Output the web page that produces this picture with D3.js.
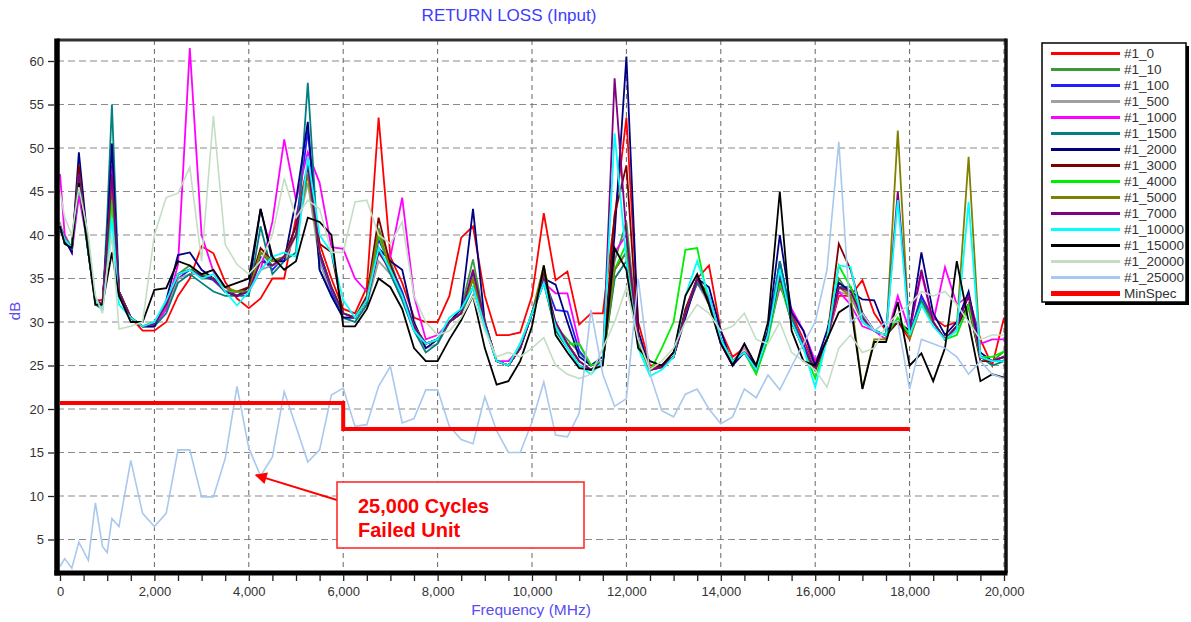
<!DOCTYPE html>
<html>
<head>
<meta charset="utf-8">
<script src="https://cdn.jsdelivr.net/npm/d3@7"></script>
<style>
  html, body { margin: 0; padding: 0; background: #ffffff; }
  svg { display: block; font-family: "Liberation Sans", Arial, sans-serif; }
</style>
</head>
<body>
<div id="chart"></div>
<script>
// Frequency points (MHz) shared by every sweep
const freqs = [
  0, 100, 250, 400, 600, 750, 900, 1000, 1100, 1250,
  1500, 1750, 2000, 2250, 2500, 2750, 3000, 3250, 3500, 3750,
  4000, 4250, 4500, 4750, 5000, 5250, 5500, 5750, 6000, 6250,
  6500, 6750, 7000, 7250, 7500, 7750, 8000, 8250, 8500, 8750,
  9000, 9250, 9500, 9750, 10000, 10250, 10500, 10750, 11000, 11250,
  11500, 11750, 12000, 12250, 12500, 12750, 13000, 13250, 13500, 13750,
  14000, 14250, 14500, 14750, 15000, 15250, 15500, 15750, 16000, 16250,
  16500, 16750, 17000, 17250, 17500, 17750, 18000, 18250, 18500, 18750,
  19000, 19250, 19500, 19750, 20000
];

// Return loss (dB) per cycle count
const rl_0 = [
  41, 39, 38.5, 47, 38, 32.5, 32.5, 38, 44, 33.5,
  30.5, 29, 29, 30, 33, 35, 38.7, 37.9, 34.6, 32.7,
  31.6, 32.7, 35, 35, 42, 48, 39, 35, 31.5, 31,
  34, 53.5, 37.5, 34.5, 30.5, 30, 30, 33, 39.7, 41,
  33, 28.5, 28.5, 28.8, 33, 42.5, 34.8, 35.8, 29.7, 31,
  31, 42, 53.5, 30, 25, 25, 26.5, 31, 35, 36.5,
  29, 26, 27, 25, 28.5, 35, 31, 28, 25, 28,
  33, 33, 34.8, 31, 29, 30, 28, 33, 30.5, 29.5,
  30, 33, 28, 25, 30.5
];
const rl_10 = [
  41, 40, 38.5, 47.5, 38.5, 32.5, 32, 40, 47, 33.5,
  30.5, 29.5, 29.8, 32, 35.5, 36.5, 35, 35, 33.5, 33.5,
  33.5, 38, 36.5, 37.5, 40, 48, 38, 34, 31, 30.5,
  32.5, 40.8, 37, 33, 29.5, 27.5, 28, 30, 31.5, 37.2,
  30, 25.5, 25, 27, 31, 35.5, 29.5, 28, 26.5, 25,
  25.5, 37, 41.5, 28, 24.5, 25, 26, 31, 35, 32,
  28, 25.5, 26.5, 24.5, 29, 35, 30, 27, 24.5, 28,
  35, 33, 30, 29, 28.5, 30, 29, 32, 30, 28,
  29.5, 32, 26, 25.5, 26.6
];
const rl_100 = [
  40.5, 39.5, 38, 47, 38, 32.5, 32, 39, 46, 33.5,
  30.5, 29.5, 29.5, 31.5, 35, 36, 35.3, 34.8, 33.5, 33,
  33.5, 37.5, 36, 37.5, 41, 52, 37.5, 33.5, 30.5, 30.5,
  32.5, 39.5, 36.5, 33.5, 29.5, 27.5, 28, 30, 31, 35.5,
  29.5, 25.5, 25, 27, 31, 35, 31.4, 31.2, 26.7, 25,
  25.5, 36, 38, 28, 24.5, 24.8, 26, 31, 35, 32.5,
  27.5, 25.5, 26.5, 24.5, 28.5, 37, 30.5, 27.5, 24.5, 28,
  34, 34, 31, 29, 28.5, 30, 28.5, 33, 30, 28,
  29.5, 32, 26, 25.5, 26
];
const rl_500 = [
  41.5, 39, 38.5, 46, 38, 32, 32, 37, 44, 33,
  30.5, 29.5, 29.5, 31.5, 35, 35.5, 35.5, 35, 33.5, 33,
  33.5, 36, 36.5, 37, 40, 46, 37, 33, 30.5, 30,
  32, 37, 35.5, 32.5, 29, 27, 27.5, 30, 31, 34,
  29.5, 25.5, 25, 27, 31, 34.5, 29, 27.5, 25.5, 24.5,
  25.5, 35, 37, 28, 24.5, 25, 26, 31, 34.5, 32,
  28, 25.5, 27, 25, 28.5, 35, 30, 27, 24.5, 28,
  33.5, 33, 30.5, 29, 28.5, 30, 28.5, 32, 30, 28,
  29, 31.5, 26, 25.5, 26
];
const rl_1000 = [
  47, 40, 38, 44.5, 38.5, 32.5, 32, 40, 48, 33.5,
  30.5, 29.5, 29.5, 31.5, 36.6, 61.5, 40, 35.8, 34, 33,
  33.5, 36, 41.5, 51, 44, 49.5, 46, 38.6, 38.4, 35,
  33.5, 38, 37.5, 44.3, 33, 28, 28.5, 30, 31, 35,
  30, 25.5, 25.5, 27, 31, 34.5, 33.3, 33.3, 27.5, 25,
  25.5, 38, 40, 28, 24.5, 24.8, 26, 31, 34.5, 32.5,
  27.5, 25, 27.5, 24.5, 28.5, 34, 31.5, 29, 25.5, 28,
  33.5, 32, 29.5, 29, 28, 33, 29, 35.6, 30, 36.3,
  32, 33, 27.5, 28, 28
];
const rl_1500 = [
  41, 39, 38.5, 47.5, 38, 32, 31.5, 42, 55, 33.5,
  30.5, 29.5, 29.5, 31, 34.5, 35.5, 34.5, 33.5, 33, 33,
  33, 41, 35.5, 37, 38, 57.5, 36, 33, 30.5, 30,
  32, 38.5, 35.5, 32.5, 29, 26.5, 27.5, 30, 31, 34,
  29.5, 25.5, 25, 27, 31, 34.5, 29, 27, 25, 24.5,
  25.5, 35, 37, 28, 24.5, 25, 26, 31, 34.5, 32.5,
  28, 25.5, 26.5, 24.5, 28.5, 37, 30.5, 27, 24.5, 28,
  34, 34, 30.5, 29, 28.5, 30, 28.5, 32.5, 30, 28,
  29.5, 32, 26, 25, 25.5
];
const rl_2000 = [
  41, 39.5, 38, 49.5, 38.5, 32.5, 32, 40, 50.5, 33.5,
  30.5, 29.5, 29.5, 32.5, 37.7, 38, 36, 35, 33.5, 33,
  34, 43, 37, 37, 44, 53, 36, 33, 30.5, 30.5,
  32.5, 38.5, 37, 36, 30, 27, 28, 30, 31.5, 43,
  30, 25.5, 25, 27, 31, 35, 34.3, 30, 26, 25,
  26, 40, 60.5, 29, 24.5, 25, 26, 30.5, 35, 34,
  29, 25, 26.5, 25, 29, 40, 31.1, 29, 25, 29,
  34.5, 33.5, 32.6, 32.5, 29, 30, 29, 38, 31, 28.5,
  30, 33.5, 26.5, 25.5, 26
];
const rl_3000 = [
  41, 39.5, 38.5, 48, 38, 32.5, 32, 39, 46, 33.5,
  30.5, 29.5, 30, 32, 35.5, 36, 35.5, 35, 33.5, 33.5,
  34, 38.5, 37, 37.5, 41, 47, 39, 38, 31, 30.5,
  33, 42, 36.5, 33, 29.5, 27.5, 28, 30, 31, 35,
  30, 25.5, 25, 27, 31, 35.5, 29.5, 27.5, 25.5, 24.5,
  25.5, 42.3, 48, 28, 24.5, 25, 26, 31.5, 35, 33,
  28, 25.5, 26.5, 24.5, 28.5, 35, 30, 27, 24.5, 28,
  39, 36, 31, 29, 28.5, 30, 28.5, 32, 30, 28,
  29.5, 32, 25.5, 25.5, 25.5
];
const rl_4000 = [
  41, 39.5, 38.5, 46.5, 38.5, 32.5, 32, 38, 44, 33.5,
  30.5, 29.5, 30, 32, 35.5, 36, 35.5, 35, 33.5, 33.5,
  33.5, 38, 37, 37.5, 40, 47, 38, 34, 31, 30.5,
  32.5, 40, 36, 33, 29.5, 27.5, 28, 30, 31, 35,
  30, 25.5, 25, 27.5, 31, 35, 29.5, 27.5, 27.5, 25,
  25.5, 36, 39, 27.5, 24.3, 27, 30, 38.3, 38.5, 32,
  28, 25.5, 26.5, 24, 28, 34.5, 30, 27, 23.5, 28,
  36.5, 34, 30.5, 29, 28.5, 30.5, 28.5, 32, 30, 28,
  28.5, 32, 26, 26, 26.6
];
const rl_5000 = [
  41, 39.5, 38.5, 47, 38, 32.5, 32, 39, 46, 33.5,
  30.5, 29.5, 29.8, 32, 35.5, 36, 35.3, 35, 34, 33.5,
  33.5, 38, 37, 37.5, 40, 47, 38, 34, 31, 30.5,
  32.5, 40.5, 36, 33, 29.5, 27.5, 28, 30, 31, 35,
  30, 25.5, 25, 27, 31, 36.5, 29.5, 27.5, 25.5, 24.5,
  25.5, 36, 38, 28, 24.5, 24.8, 26, 31, 35, 32.5,
  28, 25.5, 26.5, 24.5, 28.5, 35.5, 30, 27, 24.5, 28,
  34, 33, 22.3, 28, 28, 52, 28, 32, 30, 28,
  29.5, 49, 26, 25.5, 26
];
const rl_7000 = [
  41, 39.5, 38.5, 47, 38, 32.5, 32, 39, 47, 33.5,
  30.5, 29.5, 29.8, 32, 35.5, 36, 35.3, 35, 33.5, 33,
  33.5, 37, 36.5, 37.5, 40, 48, 38, 34, 31, 30.5,
  32.5, 38, 36, 33, 29.5, 27.5, 28, 30, 31, 36,
  30, 25.5, 25, 27, 31, 35, 30, 27.5, 25.5, 24.5,
  25.5, 58, 40, 28, 24.5, 24.8, 26, 31, 35, 32.5,
  28, 25.5, 26.5, 24.5, 28.5, 35.5, 30, 27, 24.5, 28,
  34, 33.5, 30.5, 29, 28.5, 45, 29, 36, 30, 28,
  29.5, 33, 26, 25.5, 26
];
const rl_10000 = [
  41, 39.5, 38.5, 46, 38, 32.5, 31.5, 36, 42, 32,
  30.5, 29.5, 30, 32.5, 35.5, 36, 35, 35.5, 33.5, 31.9,
  33.5, 36, 37.5, 38, 37.5, 49, 40, 38, 32.5, 30.5,
  32.5, 38.5, 36, 33, 29, 27.5, 28, 30.5, 31.5, 34,
  29.5, 25.5, 25, 27.5, 31, 34.5, 29.5, 27, 25, 24,
  25.5, 51.7, 37, 27, 23.8, 24.5, 26, 33, 37, 33,
  28, 25.5, 26.5, 24.5, 28.5, 36, 30, 27, 22.5, 28,
  36.5, 36.3, 30, 29, 28.5, 44, 28.5, 32, 29.5, 28,
  29, 43.8, 26, 25.5, 25.5
];
const rl_15000 = [
  41, 39, 38.5, 46, 38, 32, 32, 35, 38, 33,
  30, 30, 33.7, 33.9, 37, 36.5, 35.5, 36, 34, 34.5,
  35, 43, 37.5, 36, 37, 42, 41.5, 40, 29.5, 29.5,
  31.5, 35, 34, 31.5, 27, 25.5, 25.5, 28, 30.2, 33,
  27, 22.8, 23.2, 25.5, 29.5, 36.5, 28.5, 26.5, 24.7, 24.5,
  25, 38.5, 36, 27, 25.5, 25, 26.5, 33, 35.5, 32,
  27.5, 25, 27.5, 25, 30, 45, 29, 25.5, 25, 28,
  31.1, 32, 22.3, 27.7, 27.7, 32.3, 25, 26.4, 23.2, 27,
  37, 30, 23.2, 24, 23.6
];
const rl_20000 = [
  45, 42, 40, 45.5, 40, 33, 31, 36, 40, 29.2,
  29.5, 30, 40, 44.3, 44.8, 47.8, 37, 53.7, 38.9, 36.6,
  35.5, 37, 40, 46.5, 42, 44, 43, 38, 38, 43.8,
  44, 40, 39, 41.5, 33, 30, 28.5, 29, 30.5, 33,
  29, 26, 26.5, 26, 27, 28.2, 25, 24, 23.5, 24,
  27, 30, 34, 28, 24.5, 25.5, 27, 30, 32, 31,
  29, 29.5, 31, 28, 27.5, 30, 26.5, 25.5, 24.5, 22.5,
  27, 28.5, 26.5, 27, 29.5, 31, 32, 33.5, 33, 33.5,
  32, 30, 28, 28.5, 28.5
];
const rl_25000 = [
  1.9, 2.8, 1.7, 4.7, 2.6, 9.2, 4.2, 3.5, 7.4, 6.5,
  14.1, 8, 6.5, 8, 15.3, 15.3, 9.9, 9.9, 14.3, 22.6,
  15.5, 12.3, 14.5, 22, 18, 13.9, 15.3, 21.6, 22.4, 18,
  18.2, 22.6, 24.9, 18.4, 18.9, 22.2, 22.2, 18, 16.5, 16,
  21.4, 17.5, 15, 15, 18.5, 23.1, 17, 16.8, 19.5, 31.4,
  24, 20.3, 21.2, 35, 24, 19.8, 19.1, 21.7, 22.3, 20,
  18.3, 19.1, 22.3, 21.3, 23.9, 22.2, 24.9, 27.5, 30, 36,
  50.7, 30, 31, 29, 30, 30, 22.3, 28, 27.5, 27,
  26, 24, 25.5, 24, 23.5
];

// Spec limit (step)
const minSpecFreq = [0, 6000, 6000, 18000];
const minSpecDb = [20.7, 20.7, 17.7, 17.7];

const seriesNames = ['#1_0', '#1_10', '#1_100', '#1_500', '#1_1000', '#1_1500', '#1_2000',
  '#1_3000', '#1_4000', '#1_5000', '#1_7000', '#1_10000', '#1_15000', '#1_20000', '#1_25000'];
const seriesValues = [rl_0, rl_10, rl_100, rl_500, rl_1000, rl_1500, rl_2000,
  rl_3000, rl_4000, rl_5000, rl_7000, rl_10000, rl_15000, rl_20000, rl_25000];

const xTicks = d3.range(0, 20001, 500);
const xLabels = d3.range(0, 20001, 2000);
const yTicks = d3.range(5, 61, 5);

const annotationLines = ['25,000 Cycles', 'Failed Unit'];
const annotationTarget = { freq: 4150, db: 12.4 };

// Styles
const colors = ['#ff0000', '#3a9a3a', '#2020ff', '#a0a0a0', '#ff00ff', '#008080', '#000080',
  '#800000', '#00ee00', '#808000', '#800080', '#00ffff', '#000000', '#c4dec4', '#a8c8ee'];
const minSpecColor = '#ff0000';

const width = 1191, height = 622;
const plot = { left: 57, right: 1006, top: 40, bottom: 573 };

const svg = d3.select('#chart').append('svg')
  .attr('width', width)
  .attr('height', height);

const x = d3.scaleLinear().domain([0, 20000]).range([60, 1004]);
const y = d3.scaleLinear().domain([0, 60]).range([583, 61]);

svg.append('defs').append('clipPath').attr('id', 'plot-clip')
  .append('rect')
  .attr('x', plot.left).attr('y', plot.top)
  .attr('width', plot.right - plot.left).attr('height', plot.bottom - plot.top);

// Title
svg.append('text')
  .attr('x', 509).attr('y', 21)
  .attr('text-anchor', 'middle')
  .attr('fill', '#3c3cff')
  .style('font-size', '17px')
  .text('RETURN LOSS (Input)');

// Grid
const grid = svg.append('g');
grid.selectAll('.hgrid').data(yTicks).enter().append('line')
  .attr('x1', plot.left).attr('x2', plot.right)
  .attr('y1', d => y(d)).attr('y2', d => y(d))
  .attr('stroke', '#8a8a8a').attr('stroke-width', 1.2)
  .attr('stroke-dasharray', '7,4');
grid.selectAll('.vgrid').data(xLabels.filter(d => d > 0)).enter().append('line')
  .attr('x1', d => x(d)).attr('x2', d => x(d))
  .attr('y1', plot.top).attr('y2', plot.bottom)
  .attr('stroke', '#666').attr('stroke-width', 1)
  .attr('stroke-dasharray', '5,4');

// Series lines
const line = d3.line()
  .x((d, i) => x(freqs[i]))
  .y(d => y(d));

const lines = svg.append('g').attr('clip-path', 'url(#plot-clip)');
seriesValues.forEach((vals, k) => {
  lines.append('path')
    .datum(vals)
    .attr('fill', 'none')
    .attr('stroke', colors[k])
    .attr('stroke-width', k >= 13 ? 1.6 : 1.8)
    .attr('stroke-linejoin', 'miter')
    .attr('d', line);
});

// MinSpec
const specLine = d3.line()
  .x((d, i) => x(minSpecFreq[i]))
  .y(d => y(d));
lines.append('path')
  .datum(minSpecDb)
  .attr('fill', 'none')
  .attr('stroke', minSpecColor)
  .attr('stroke-width', 4)
  .attr('d', specLine);

// Frame
svg.append('line').attr('x1', plot.left).attr('x2', plot.right).attr('y1', plot.top).attr('y2', plot.top)
  .attr('stroke', '#333').attr('stroke-width', 3);
svg.append('line').attr('x1', plot.right).attr('x2', plot.right).attr('y1', plot.top - 1.5).attr('y2', plot.bottom)
  .attr('stroke', '#111').attr('stroke-width', 3.5);
svg.append('line').attr('x1', plot.left).attr('x2', plot.left).attr('y1', plot.top - 1.5).attr('y2', plot.bottom + 2.5)
  .attr('stroke', '#000').attr('stroke-width', 5.5);
svg.append('line').attr('x1', plot.left - 2.5).attr('x2', plot.right + 1.5).attr('y1', plot.bottom).attr('y2', plot.bottom)
  .attr('stroke', '#000').attr('stroke-width', 5);

// X axis
const xAxis = svg.append('g')
  .attr('transform', `translate(0, ${plot.bottom + 2})`)
  .call(d3.axisBottom(x)
    .tickValues(xTicks)
    .tickSize(6)
    .tickPadding(6)
    .tickFormat(d => d % 2000 === 0 ? d3.format(',')(d) : ''));
xAxis.select('.domain').remove();
xAxis.selectAll('line').attr('stroke', '#222').attr('stroke-width', 1.3);
xAxis.selectAll('text').attr('fill', '#333').style('font-size', '13px')
  .style('font-family', '"Liberation Sans", Arial, sans-serif');

// Y axis
const yAxis = svg.append('g')
  .attr('transform', `translate(${plot.left - 3}, 0)`)
  .call(d3.axisLeft(y)
    .tickValues(yTicks)
    .tickSize(6)
    .tickPadding(4));
yAxis.select('.domain').remove();
yAxis.selectAll('line').attr('stroke', '#222').attr('stroke-width', 1.3);
yAxis.selectAll('text').attr('fill', '#333').style('font-size', '13px')
  .style('font-family', '"Liberation Sans", Arial, sans-serif');

// Axis titles
svg.append('text')
  .attr('x', 531).attr('y', 615)
  .attr('text-anchor', 'middle')
  .attr('fill', '#5a4cf0')
  .style('font-size', '15.5px')
  .text('Frequency (MHz)');

svg.append('text')
  .attr('transform', 'translate(20, 311) rotate(-90)')
  .attr('text-anchor', 'middle')
  .attr('fill', '#5a4cf0')
  .style('font-size', '15px')
  .text('dB');

// Legend
const legend = svg.append('g').attr('transform', 'translate(1042, 43)');
legend.append('rect')
  .attr('x', 3).attr('y', 3).attr('width', 144).attr('height', 259)
  .attr('fill', '#000');
legend.append('rect')
  .attr('x', 0).attr('y', 0).attr('width', 144).attr('height', 259)
  .attr('fill', '#fff').attr('stroke', '#000').attr('stroke-width', 1.5);

const legendNames = seriesNames.concat(['MinSpec']);
const legendColors = colors.concat([minSpecColor]);
legendNames.forEach((name, i) => {
  const ly = 10.5 + i * 16;
  legend.append('line')
    .attr('x1', 9).attr('x2', 78).attr('y1', ly).attr('y2', ly)
    .attr('stroke', legendColors[i])
    .attr('stroke-width', i === legendNames.length - 1 ? 5 : 3);
  legend.append('text')
    .attr('x', 82).attr('y', ly)
    .attr('dy', '0.35em')
    .attr('fill', '#333')
    .style('font-size', '13.5px')
    .text(name);
});

// Annotation
const ann = svg.append('g');
svg.append('defs').append('marker')
  .attr('id', 'arrow')
  .attr('viewBox', '0 0 10 10')
  .attr('refX', 9).attr('refY', 5)
  .attr('markerWidth', 7).attr('markerHeight', 6)
  .attr('markerUnits', 'strokeWidth')
  .attr('orient', 'auto')
  .append('path').attr('d', 'M0,0 L10,5 L0,10 Z').attr('fill', '#ff0000');

ann.append('line')
  .attr('x1', 337).attr('y1', 500)
  .attr('x2', x(annotationTarget.freq)).attr('y2', y(annotationTarget.db))
  .attr('stroke', '#ff0000').attr('stroke-width', 2)
  .attr('marker-end', 'url(#arrow)');

ann.append('rect')
  .attr('x', 337).attr('y', 482).attr('width', 247).attr('height', 66)
  .attr('fill', '#fff').attr('stroke', '#ff2020').attr('stroke-width', 1.5);

annotationLines.forEach((t, i) => {
  ann.append('text')
    .attr('x', 358).attr('y', 513 + i * 24)
    .attr('fill', '#ff0000')
    .style('font-size', '20px')
    .style('font-weight', 'bold')
    .text(t);
});
</script>
</body>
</html>
